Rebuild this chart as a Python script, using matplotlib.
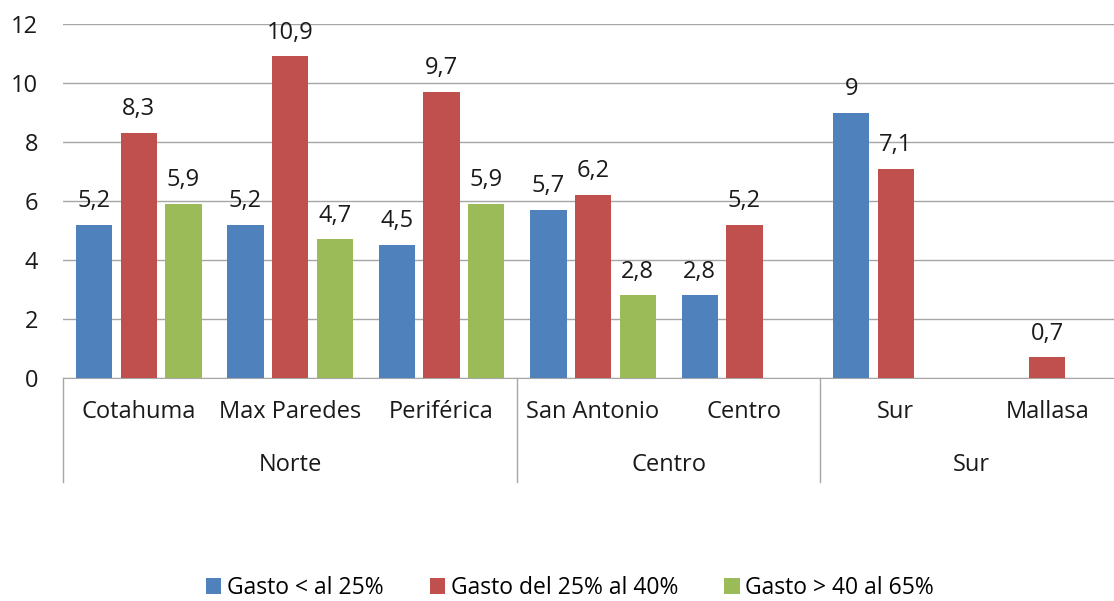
import numpy as np
import matplotlib
matplotlib.use('Agg')
import matplotlib.pyplot as plt
from matplotlib.patches import Patch
from matplotlib.lines import Line2D

plt.rcParams['font.family'] = ['Open Sans', 'DejaVu Sans']

# ======= Datos =======
zonas = ['Cotahuma', 'Max Paredes', 'Periférica', 'San Antonio', 'Centro', 'Sur', 'Mallasa']
regiones = ['Norte', 'Centro', 'Sur']
zonas_por_region = [3, 2, 2]
series = ['Gasto < al 25%', 'Gasto del 25% al 40%', 'Gasto > 40 al 65%']
gasto_25 = [5.2, 5.2, 4.5, 5.7, 2.8, 9.0, None]
gasto_25_40 = [8.3, 10.9, 9.7, 6.2, 5.2, 7.1, 0.7]
gasto_40_65 = [5.9, 4.7, 5.9, 2.8, None, None, None]
colores = ['#4F81BD', '#C0504D', '#9BBB59']

# ======= Figura =======
fig = plt.figure(figsize=(11.14, 6.01), dpi=100, facecolor='white')
W, H = 1114, 601
x0, x1 = 63, 1123
y0, y1 = 378, 24
ax = fig.add_axes([x0 / W, 1 - y0 / H, (x1 - x0) / W, (y0 - y1) / H])

x = np.arange(len(zonas))
ancho = 0.24
desp = 0.295
fs = 17

for i, (vals, col) in enumerate(zip([gasto_25, gasto_25_40, gasto_40_65], colores)):
    for xi, v in zip(x, vals):
        if v is None:
            continue
        xb = xi + (i - 1) * desp
        ax.bar(xb, v, width=ancho, color=col, zorder=3)
        txt = ('%g' % v).replace('.', ',')
        ax.text(xb, v + 0.4, txt, ha='center', va='bottom', fontsize=fs, color='#1a1a1a')

ax.set_xlim(-0.5, len(zonas) - 0.5)
ax.set_ylim(0, 12)
ax.set_yticks(range(0, 13, 2))
ax.tick_params(axis='y', length=0, labelsize=fs, pad=18, colors='#1a1a1a')
ax.set_xticks([])
ax.grid(axis='y', color='#a6a6a6', linewidth=1, zorder=0)
for s in ['top', 'right', 'left']:
    ax.spines[s].set_visible(False)
ax.spines['bottom'].set_color('#a6a6a6')

# Etiquetas de zona
for xi, z in zip(x, zonas):
    ax.text(xi, -1.15, z, ha='center', va='center', fontsize=fs, color='#1a1a1a')

# Etiquetas de region y separadores
inicio = -0.5
for reg, n in zip(regiones, zonas_por_region):
    ax.add_line(Line2D([inicio, inicio], [0, -3.53], color='#a6a6a6', lw=1, clip_on=False))
    ax.text(inicio + n / 2, -2.95, reg, ha='center', va='center', fontsize=fs, color='#1a1a1a')
    inicio += n
ax.add_line(Line2D([inicio, inicio], [0, -3.53], color='#a6a6a6', lw=1, clip_on=False))

# ======= Leyenda =======
handles = [Patch(facecolor=c, edgecolor='none') for c in colores]
fig.legend(handles, series, loc='center', bbox_to_anchor=(570 / W, 1 - 588 / H), ncol=3,
           frameon=False, prop={'size': 16.5},
           handlelength=0.68, handleheight=0.68, handletextpad=0.25, columnspacing=2.0)

plt.savefig('out.png', dpi=100)
